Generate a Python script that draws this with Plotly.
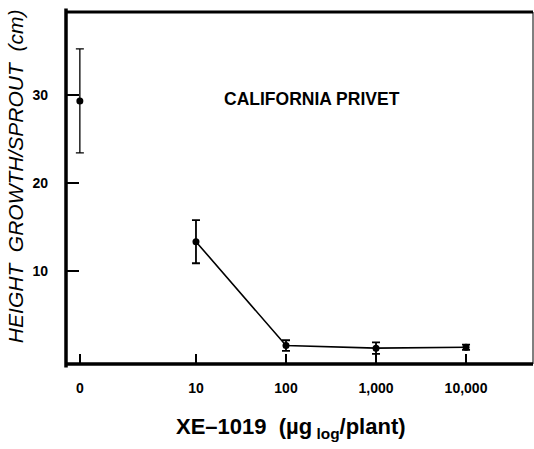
import numpy as np
import plotly.graph_objects as go

# ---- data ----
doses = [0, 10, 100, 1000, 10000]
dose_labels = ["0", "10", "100", "1,000", "10,000"]
height_growth = [29.3, 13.3, 1.5, 1.2, 1.3]
height_err = [5.9, 2.45, 0.6, 0.65, 0.3]
y_ticks = [10, 20, 30]

# zero dose drawn on a broken axis left of the 10 position
ZERO_POS = -0.29
xpos = [ZERO_POS if d == 0 else float(np.log10(d)) for d in doses]

FONT = "Liberation Sans, Arial, Helvetica, sans-serif"

fig = go.Figure()

# control (0 dose) point, not connected
fig.add_trace(go.Scatter(
    x=xpos[:1], y=height_growth[:1], mode="markers",
    marker=dict(color="black", size=7),
    error_y=dict(type="data", array=height_err[:1], color="black", thickness=1.3, width=4),
    showlegend=False, hoverinfo="skip"))

# treated doses, connected
fig.add_trace(go.Scatter(
    x=xpos[1:], y=height_growth[1:], mode="lines+markers",
    line=dict(color="black", width=1.6),
    marker=dict(color="black", size=7),
    error_y=dict(type="data", array=height_err[1:], color="black", thickness=1.8, width=4),
    showlegend=False, hoverinfo="skip"))

fig.add_annotation(x=0.333, y=0.753, xref="paper", yref="paper",
                   text="CALIFORNIA PRIVET", showarrow=False,
                   xanchor="left", yanchor="middle",
                   font=dict(family=FONT, size=17.5, color="black", weight="bold"))

fig.add_annotation(x=0.482, y=-0.182, xref="paper", yref="paper",
                   text="<b>XE\u20131019  (\u00b5g<sub> log</sub>/plant)</b>", showarrow=False,
                   xanchor="center", yanchor="middle",
                   font=dict(family=FONT, size=22, color="black"))

fig.add_annotation(x=-0.109, y=0.534, xref="paper", yref="paper",
                   text="<i>HEIGHT  GROWTH/SPROUT  (cm)</i>", showarrow=False,
                   textangle=-90, xanchor="center", yanchor="middle",
                   font=dict(family=FONT, size=21, color="black"))

# frame: heavy left/top/bottom, light right
fig.add_shape(type="line", xref="paper", yref="paper", x0=0, x1=0, y0=-0.01, y1=1.01,
              line=dict(color="black", width=3.5))
fig.add_shape(type="line", xref="paper", yref="paper", x0=0, x1=1, y0=1, y1=1,
              line=dict(color="black", width=3))
fig.add_shape(type="line", xref="paper", yref="paper", x0=0, x1=1, y0=0, y1=0,
              line=dict(color="black", width=3.5))
fig.add_shape(type="line", xref="paper", yref="paper", x0=1, x1=1, y0=0, y1=1,
              line=dict(color="black", width=1))

fig.update_layout(
    width=534, height=449,
    margin=dict(l=66, r=1, t=12, b=85),
    paper_bgcolor="white", plot_bgcolor="white",
    xaxis=dict(range=[-0.444, 4.744], tickvals=xpos, ticktext=dose_labels,
               ticks="inside", ticklen=10, tickwidth=1.5, tickcolor="black",
               showgrid=False, zeroline=False, showline=False,
               ticklabelstandoff=14,
               tickfont=dict(family=FONT, size=14, color="black", weight="bold")),
    yaxis=dict(range=[-0.6, 39.4], tickvals=y_ticks,
               ticks="inside", ticklen=13, tickwidth=1.5, tickcolor="black",
               showgrid=False, zeroline=False, showline=False,
               ticklabelstandoff=17,
               tickfont=dict(family=FONT, size=14, color="black", weight="bold")),
)

fig.write_html("out.html")
